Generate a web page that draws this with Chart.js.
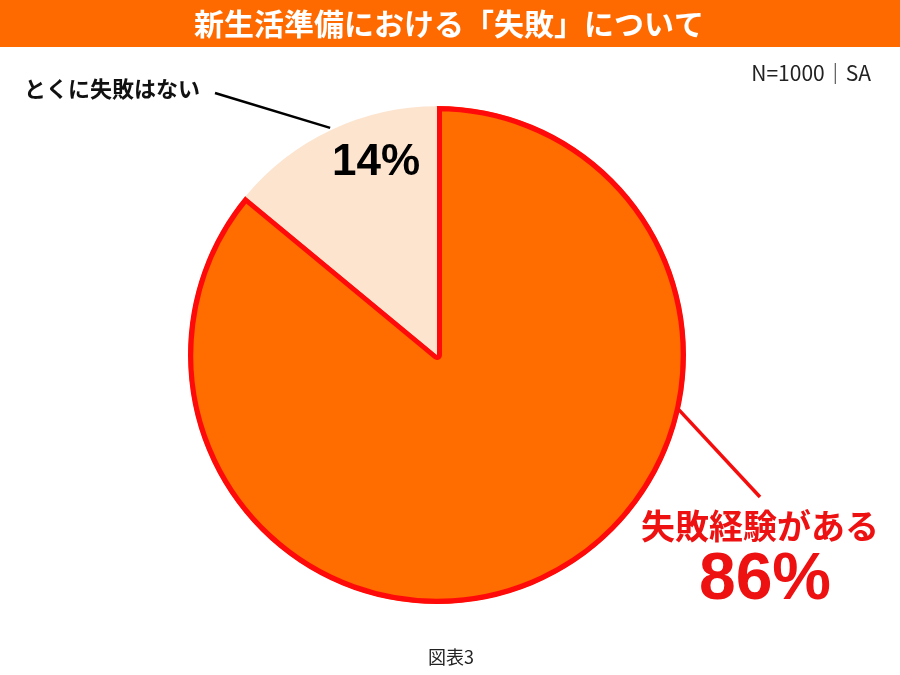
<!DOCTYPE html>
<html lang="ja">
<head>
<meta charset="utf-8">
<title>新生活準備における「失敗」について</title>
<script src="https://cdn.jsdelivr.net/npm/chart.js@4.4.0/dist/chart.umd.min.js"></script>
<style>
  html, body { margin: 0; padding: 0; background: #ffffff; }
  #wrap { width: 900px; height: 675px; }
</style>
</head>
<body>
<div id="wrap"><canvas id="c" width="900" height="675"></canvas></div>
<script>
const chartTitle = '新生活準備における「失敗」について';
const categories = ['失敗経験がある', 'とくに失敗はない'];
const values = [86, 14];
const sliceColors = ['#FF6D00', '#FCE4CF'];
const note = 'N=1000｜SA';
const caption = '図表3';

const JP = '"Noto Sans CJK JP", "Noto Sans", sans-serif';
const LAT = '"Liberation Sans", Arial, sans-serif';

function pointOnArc(el, angleFromTopDeg, r) {
  const a = (angleFromTopDeg - 90) * Math.PI / 180;
  return { x: el.x + Math.cos(a) * r, y: el.y + Math.sin(a) * r };
}

const decorPlugin = {
  id: 'decor',
  beforeDraw(chart) {
    const ctx = chart.ctx;
    ctx.save();
    ctx.fillStyle = '#FFFFFF';
    ctx.fillRect(0, 0, chart.width, chart.height);
    ctx.fillStyle = '#FF6A00';
    ctx.fillRect(0, 0, chart.width, 47);
    ctx.fillStyle = '#FFFFFF';
    ctx.font = 'bold 30px ' + JP;
    ctx.textAlign = 'center';
    ctx.textBaseline = 'middle';
    ctx.fillText(chartTitle, 449, 24);
    ctx.restore();
  },
  afterDraw(chart) {
    const ctx = chart.ctx;
    const meta = chart.getDatasetMeta(0);
    const big = meta.data[0];
    const small = meta.data[1];
    const total = values.reduce((a, b) => a + b, 0);
    ctx.save();

    // note top right
    ctx.fillStyle = '#222222';
    ctx.font = '21px ' + JP;
    ctx.textAlign = 'right';
    ctx.textBaseline = 'middle';
    ctx.fillText(note, 871, 73);

    // small slice label + leader
    const midSmall = 360 * (values[0] + values[1] / 2) / total;
    const pS = pointOnArc(small, midSmall, small.outerRadius + 2);
    ctx.strokeStyle = '#000000';
    ctx.lineWidth = 2.5;
    ctx.beginPath();
    ctx.moveTo(215, 93);
    ctx.lineTo(pS.x, pS.y);
    ctx.stroke();

    ctx.fillStyle = '#111111';
    ctx.font = 'bold 22px ' + JP;
    ctx.textAlign = 'left';
    ctx.fillText(categories[1], 24, 89);

    ctx.fillStyle = '#000000';
    ctx.font = 'bold 44px ' + LAT;
    ctx.textAlign = 'center';
    ctx.fillText(values[1] + '%', 376, 163);

    // big slice label + leader
    const pB = pointOnArc(big, 102.6, big.outerRadius - 2);
    ctx.strokeStyle = '#F50D0D';
    ctx.lineWidth = 3.5;
    ctx.beginPath();
    ctx.moveTo(pB.x, pB.y);
    ctx.lineTo(760, 497);
    ctx.stroke();

    ctx.fillStyle = '#EE1111';
    ctx.font = 'bold 34px ' + JP;
    ctx.fillText(categories[0], 760, 526);
    ctx.font = 'bold 66px ' + LAT;
    ctx.fillText(values[0] + '%', 765, 581);

    // caption
    ctx.fillStyle = '#222222';
    ctx.font = '18px ' + JP;
    ctx.fillText(caption, 451, 657);
    ctx.restore();
  }
};

new Chart(document.getElementById('c'), {
  type: 'pie',
  data: {
    labels: categories,
    datasets: [{
      data: values,
      backgroundColor: sliceColors,
      borderColor: ['#FF0A0A', '#FCE4CF'],
      borderWidth: [5, 0],
      borderAlign: 'inner',
      hoverOffset: 0
    }]
  },
  options: {
    responsive: false,
    devicePixelRatio: 1,
    animation: false,
    events: [],
    layout: { padding: { top: 106, bottom: 71, left: 188, right: 214 } },
    plugins: {
      legend: { display: false },
      tooltip: { enabled: false },
      title: { display: false }
    }
  },
  plugins: [decorPlugin]
});
</script>
</body>
</html>
